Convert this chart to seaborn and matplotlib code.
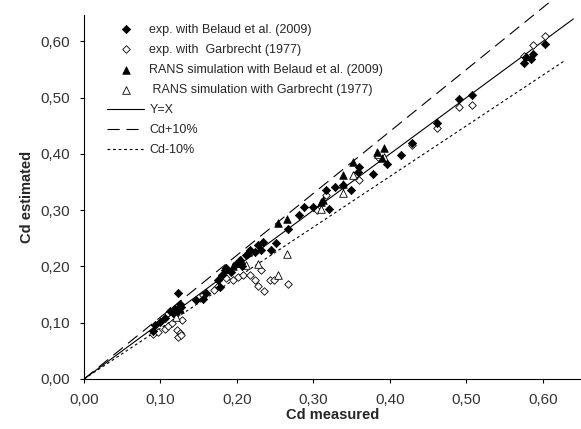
import numpy as np
import pandas as pd
import matplotlib
matplotlib.use("Agg")
import matplotlib.pyplot as plt
from matplotlib.ticker import FuncFormatter
import seaborn as sns

# exp. with Belaud et al. (2009) - filled diamonds
belaud_exp_x = [0.090, 0.093, 0.099, 0.106, 0.112, 0.116, 0.119, 0.121, 0.125, 0.127,
                0.123, 0.147, 0.156, 0.160, 0.175, 0.178, 0.180, 0.184, 0.186, 0.192,
                0.199, 0.204, 0.207, 0.212, 0.217, 0.223, 0.228, 0.231, 0.234, 0.244,
                0.251, 0.267, 0.281, 0.288, 0.299, 0.317, 0.321, 0.328, 0.339, 0.349,
                0.358, 0.360, 0.378, 0.396, 0.415, 0.429, 0.462, 0.490, 0.508, 0.576,
                0.578, 0.584, 0.587, 0.603]
belaud_exp_y = [0.085, 0.096, 0.102, 0.108, 0.120, 0.118, 0.125, 0.122, 0.134, 0.128,
                0.153, 0.141, 0.143, 0.152, 0.176, 0.164, 0.185, 0.194, 0.197, 0.190,
                0.205, 0.211, 0.200, 0.220, 0.229, 0.226, 0.238, 0.229, 0.244, 0.229,
                0.241, 0.266, 0.291, 0.305, 0.306, 0.336, 0.303, 0.341, 0.345, 0.336,
                0.368, 0.377, 0.365, 0.383, 0.399, 0.420, 0.455, 0.498, 0.504, 0.562,
                0.573, 0.569, 0.578, 0.595]

# exp. with Garbrecht (1977) - open diamonds
garb_exp_x = [0.090, 0.097, 0.106, 0.110, 0.115, 0.121, 0.125, 0.123, 0.127, 0.128,
              0.155, 0.170, 0.175, 0.186, 0.195, 0.201, 0.208, 0.217, 0.223, 0.232,
              0.228, 0.236, 0.243, 0.249, 0.267, 0.305, 0.317, 0.360, 0.385, 0.429,
              0.462, 0.491, 0.508, 0.576, 0.587, 0.603]
garb_exp_y = [0.080, 0.083, 0.088, 0.095, 0.100, 0.087, 0.082, 0.075, 0.078, 0.105,
              0.150, 0.158, 0.165, 0.179, 0.176, 0.182, 0.185, 0.185, 0.176, 0.194,
              0.165, 0.156, 0.176, 0.176, 0.169, 0.300, 0.327, 0.353, 0.395, 0.416,
              0.447, 0.484, 0.487, 0.575, 0.593, 0.609]

# RANS simulation with Belaud et al. (2009) - filled triangles
rans_bel_x = [0.120, 0.125, 0.195, 0.201, 0.205, 0.215, 0.254, 0.265, 0.310, 0.312,
              0.339, 0.339, 0.352, 0.383, 0.393, 0.390]
rans_bel_y = [0.120, 0.125, 0.200, 0.206, 0.212, 0.225, 0.278, 0.285, 0.315, 0.319,
              0.347, 0.362, 0.386, 0.404, 0.411, 0.392]

# RANS simulation with Garbrecht (1977) - open triangles
rans_garb_x = [0.120, 0.212, 0.228, 0.254, 0.265, 0.310, 0.339, 0.352, 0.393, 0.385]
rans_garb_y = [0.110, 0.202, 0.205, 0.185, 0.223, 0.303, 0.330, 0.362, 0.395, 0.400]

xticks = [0.0, 0.1, 0.2, 0.3, 0.4, 0.5, 0.6]

sns.set_style("white")
plt.rcParams['font.family'] = ['Liberation Sans', 'DejaVu Sans']

fig, ax = plt.subplots(figsize=(5.81, 4.29), dpi=100)
fig.subplots_adjust(left=84/581, right=1.0, bottom=50/429, top=414/429)

sns.scatterplot(x=belaud_exp_x, y=belaud_exp_y, marker='D', s=18, color='black',
                edgecolor='black', linewidth=0.5, label='exp. with Belaud et al. (2009)', ax=ax, zorder=3)
sns.scatterplot(x=garb_exp_x, y=garb_exp_y, marker='D', s=15, facecolor='white',
                edgecolor='black', linewidth=0.6, label='exp. with  Garbrecht (1977)', ax=ax, zorder=2)
sns.scatterplot(x=rans_bel_x, y=rans_bel_y, marker='^', s=30, color='black',
                edgecolor='black', linewidth=0.5, label='RANS simulation with Belaud et al. (2009)', ax=ax, zorder=3)
sns.scatterplot(x=rans_garb_x, y=rans_garb_y, marker='^', s=30, facecolor='white',
                edgecolor='black', linewidth=0.6, label=' RANS simulation with Garbrecht (1977)', ax=ax, zorder=2)

xl = np.array([0.0, 0.64])
ax.plot(xl, xl, color='black', lw=0.8, label='Y=X', zorder=1)
xp = np.array([0.0, 0.612])
ax.plot(xp, 1.1 * xp, color='black', lw=0.8, dashes=(11, 6), label='Cd+10%', zorder=1, clip_on=False)
xm = np.array([0.0, 0.63])
ax.plot(xm, 0.9 * xm, color='black', lw=0.8, dashes=(2.5, 2.5), label='Cd-10%', zorder=1)

ax.set_xlim(0, 0.65)
ax.set_ylim(0, 0.647)
ax.set_xticks(xticks)
ax.set_yticks(xticks)
fmt = FuncFormatter(lambda v, p: f"{v:.2f}".replace('.', ','))
ax.xaxis.set_major_formatter(fmt)
ax.yaxis.set_major_formatter(fmt)
ax.tick_params(axis='both', direction='out', length=3, width=0.8, labelsize=11,
               colors='#333333', bottom=True, left=True, pad=7)
ax.tick_params(axis='both', color='black')
for side in ['top', 'right']:
    ax.spines[side].set_visible(False)
for side in ['left', 'bottom']:
    ax.spines[side].set_color('black')
    ax.spines[side].set_linewidth(0.8)

ax.set_xlabel('Cd measured', fontsize=10.5, fontweight='bold', labelpad=1)
ax.set_ylabel('Cd estimated', fontsize=10.5, fontweight='bold', labelpad=5)

ax.legend(loc='upper left', bbox_to_anchor=(0.036, 0.99), frameon=False, fontsize=9,
          handlelength=3.0, handletextpad=0.4, labelspacing=0.65, borderaxespad=0.0)

fig.savefig('out.png', dpi=100)
